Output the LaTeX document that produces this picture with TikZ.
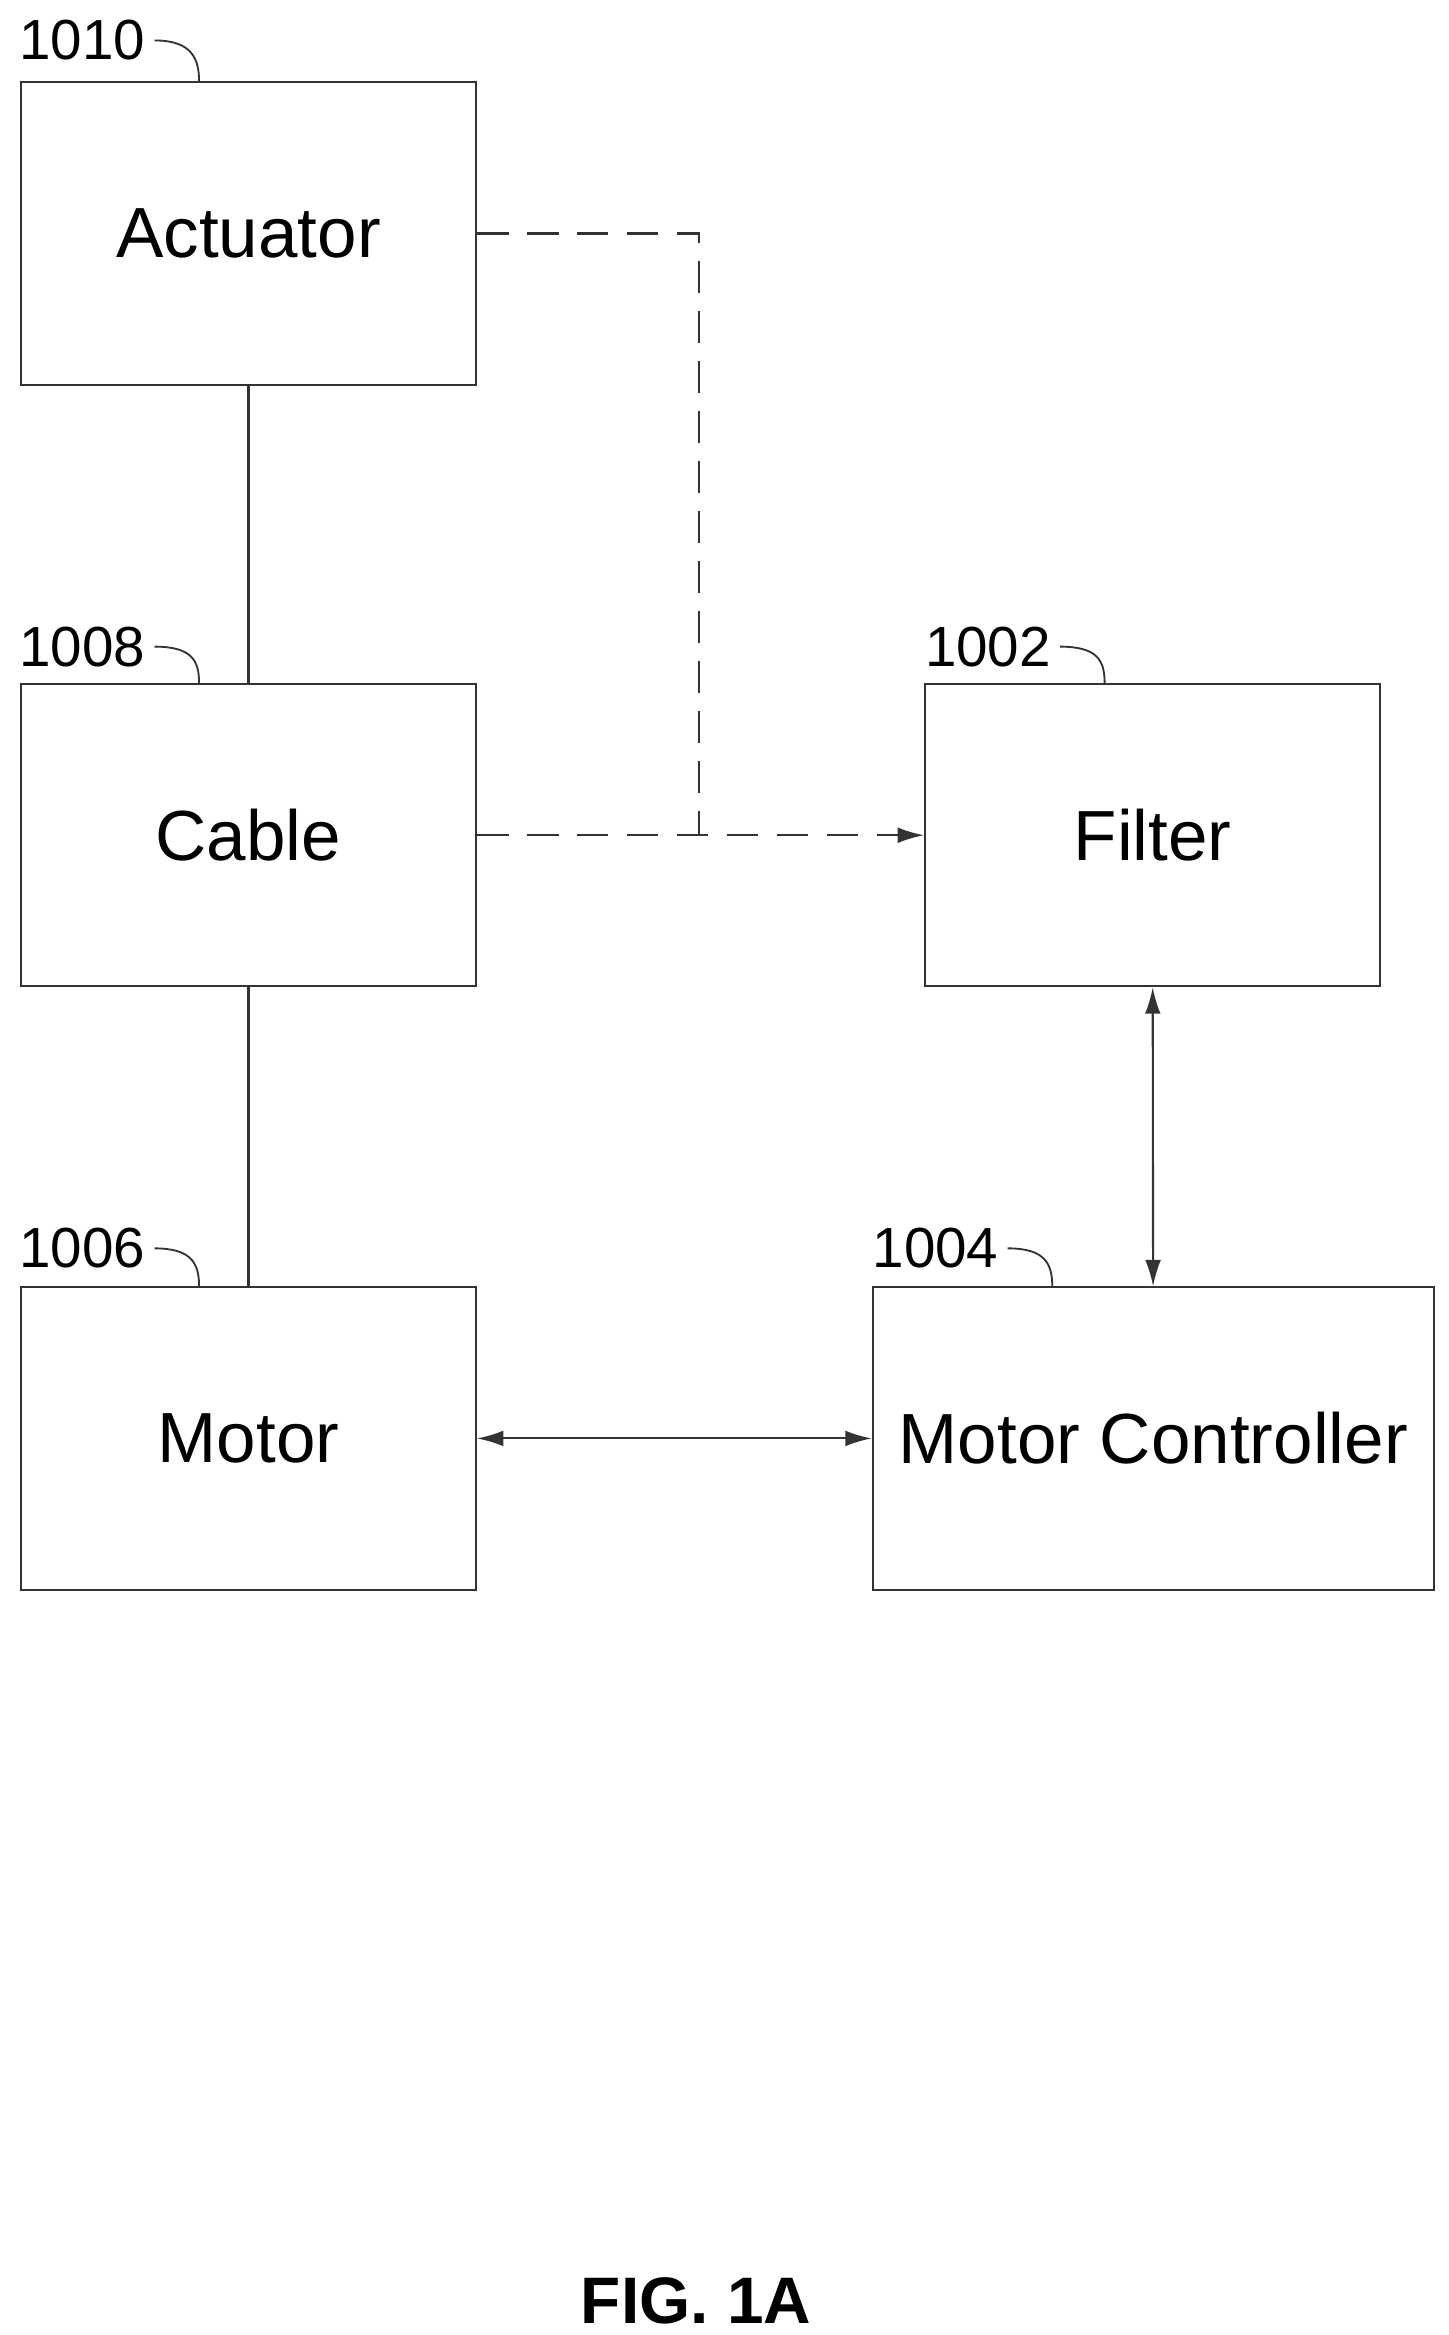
\documentclass[tikz,border=0pt]{standalone}
\usepackage{fontspec}
\setmainfont{Liberation Sans}
\usetikzlibrary{arrows.meta}
\begin{document}
\begin{tikzpicture}[x=0.02cm,y=-0.02cm,
  block/.style={draw=black!80, line width=0.8pt, inner sep=0pt, minimum width=6.08cm, minimum height=4.04cm, font=\fontsize{27}{32}\selectfont},
  refnum/.style={font=\fontsize{21.5}{25}\selectfont},
  leader/.style={draw=black!80, line width=0.7pt},
  link/.style={draw=black!80, line width=0.8pt},
  tip/.style={-{Latex[length=10pt,width=6pt]}},
  both/.style={{Latex[length=10pt,width=6pt]}-{Latex[length=10pt,width=6pt]}}]
\useasboundingbox (0,0) rectangle (968,1560);

% blocks
\node[block] (act) at (166,156) {Actuator};
\node[block] (cab) at (166,558) {Cable};
\node[block] (mot) at (166,961) {Motor};
\node[block] (fil) at (770,558) {Filter};
\node[block, minimum width=7.5cm] (ctl) at (770.5,961) {Motor Controller};

% reference numerals
\node[refnum] (n1010) at (55,27) {1010};
\node[refnum] (n1008) at (55,432) {1008};
\node[refnum] (n1006) at (55,834) {1006};
\node[refnum] (n1002) at (660,432) {1002};
\node[refnum] (n1004) at (625,834) {1004};
\draw[leader] (n1010.east) .. controls +(25,0) and +(0,-15) .. (act.north -| 133,0);
\draw[leader] (n1008.east) .. controls +(25,0) and +(0,-15) .. (cab.north -| 133,0);
\draw[leader] (n1006.east) .. controls +(25,0) and +(0,-15) .. (mot.north -| 133,0);
\draw[leader] (n1002.east) .. controls +(25,0) and +(0,-15) .. (fil.north -| 738,0);
\draw[leader] (n1004.east) .. controls +(25,0) and +(0,-15) .. (ctl.north -| 703,0);

% connections
\draw[link] (act) -- (cab);
\draw[link] (cab) -- (mot);
\draw[link, dashed, dash pattern=on 12pt off 7pt] (act.east) -| (467,557);
\draw[link, tip, dashed, dash pattern=on 12pt off 7pt] (cab.east) -- (fil.west);
\draw[link, both] (fil) -- (ctl);
\draw[link, both] (mot) -- (ctl);

% caption
\node[font=\fontsize{25}{30}\selectfont\bfseries] (fig) at (465,1537) {FIG. 1A};
\end{tikzpicture}
\end{document}
